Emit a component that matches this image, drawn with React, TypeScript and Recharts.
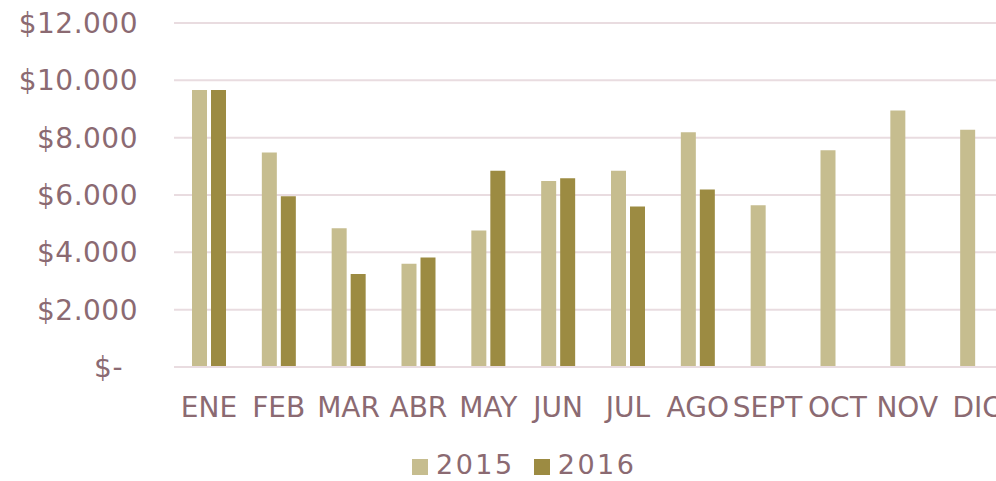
import React from "react";
import { BarChart, Bar, XAxis, YAxis, CartesianGrid, Legend } from "recharts";

const months = ["ENE", "FEB", "MAR", "ABR", "MAY", "JUN", "JUL", "AGO", "SEPT", "OCT", "NOV", "DIC"];
const sales2015 = [9660, 7480, 4840, 3600, 4760, 6490, 6850, 8190, 5640, 7560, 8950, 8280];
const sales2016: (number | null)[] = [9660, 5960, 3240, 3820, 6850, 6580, 5600, 6190, null, null, null, null];
const yTicks = [0, 2000, 4000, 6000, 8000, 10000, 12000];

const data = months.map((m, i) => ({ month: m, y2015: sales2015[i], y2016: sales2016[i] }));

const TEXT = "#8B6A72";
const FONT = "'DejaVu Sans', sans-serif";
const C2015 = "#C6BD8F";
const C2016 = "#9C8B42";

const fmt = (v: number) =>
  v === 0 ? "$-" : "$" + v.toLocaleString("de-DE");

const YTick = (props: any) => {
  const { y, payload } = props;
  const v = payload.value;
  return (
    <text
      x={v === 0 ? 123 : 138}
      y={y + 10}
      textAnchor="end"
      fill={TEXT}
      fontFamily={FONT}
      fontSize={28}
      letterSpacing={0.5}
    >
      {fmt(v)}
    </text>
  );
};

const XTick = (props: any) => {
  const { x, payload } = props;
  return (
    <text x={x} y={417} textAnchor="middle" fill={TEXT} fontFamily={FONT} fontSize={28}>
      {payload.value}
    </text>
  );
};

const LegendContent = (props: any) => {
  const { payload } = props;
  return (
    <div style={{ display: "flex", position: "absolute", left: 412, top: 25.6, fontFamily: FONT }}>
      {payload.map((p: any, i: number) => (
        <div key={i} style={{ display: "flex", alignItems: "flex-start", marginRight: 19, height: 24 }}>
          <div style={{ width: 16, height: 16, background: p.color, marginRight: 8, marginTop: 6 }} />
          <span style={{ color: TEXT, fontSize: 27, letterSpacing: 2.5, lineHeight: "24px" }}>{p.value}</span>
        </div>
      ))}
    </div>
  );
};

export default function App() {
  return (
    <div style={{ width: 996, height: 481, overflow: "hidden", position: "fixed", left: 0, top: 0, background: "#fff" }}>
      <BarChart
        width={1030}
        height={481}
        data={data}
        margin={{ top: 23, right: 18, bottom: 0, left: 0 }}
        barSize={15}
        barGap={4}
      >
        <CartesianGrid vertical={false} stroke="#E9DCE0" strokeWidth={2} />
        <XAxis
          dataKey="month"
          axisLine={{ stroke: "#E9DCE0", strokeWidth: 2 }}
          tickLine={false}
          tick={<XTick />}
          height={60}
          interval={0}
        />
        <YAxis
          width={174}
          domain={[0, 12000]}
          ticks={yTicks}
          axisLine={false}
          tickLine={false}
          tick={<YTick />}
          interval={0}
        />
        <Legend
          verticalAlign="bottom"
          height={54}
          content={<LegendContent />}
          wrapperStyle={{ left: 0, width: 1030, height: 54, bottom: 0 }}
        />
        <Bar dataKey="y2015" name="2015" fill={C2015} isAnimationActive={false} />
        <Bar dataKey="y2016" name="2016" fill={C2016} isAnimationActive={false} />
      </BarChart>
    </div>
  );
}
